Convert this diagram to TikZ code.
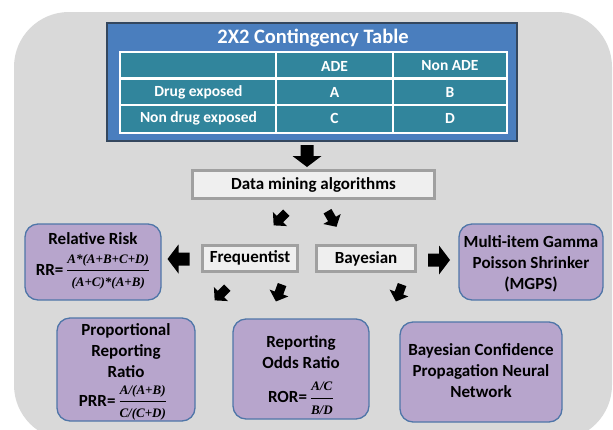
\documentclass[tikz,border=0pt]{standalone}
\usepackage{amsmath}
\usepackage{fontspec}
\setmainfont{Carlito}
\newfontfamily\fserif{Liberation Serif}
\newcommand\fmlfont{\fserif\bfseries\itshape\fontsize{13}{14}\selectfont}
\usetikzlibrary{calc}
\definecolor{bgray}{HTML}{D9D9D9}
\definecolor{tblue}{HTML}{4A7EBE}
\definecolor{tborder}{HTML}{34475E}
\definecolor{teal}{HTML}{31859C}
\definecolor{lilac}{HTML}{B7A5CC}
\definecolor{lilacedge}{HTML}{4F76A8}
\definecolor{boxgray}{HTML}{A0A0A0}
\definecolor{boxfill}{HTML}{EFEFEF}
\begin{document}
\begin{tikzpicture}[x=1pt,y=-1pt,
  txt/.style={font=\bfseries\fontsize{17}{21}\selectfont, text=black, align=center, inner sep=0pt},
  celltxt/.style={font=\bfseries\fontsize{15.5}{17}\selectfont, text=white, inner sep=0pt},
  algbox/.style={draw=boxgray, line width=3pt, fill=boxfill, txt, inner sep=0pt},
  method/.style={draw=lilacedge, line width=1.3pt, fill=lilac, rounded corners=13pt, inner sep=0pt},
  bigarrow/.pic={\fill[black] (-11,-6.5) -- (0,-6.5) -- (0,-14.5) -- (11,0) -- (0,14.5) -- (0,6.5) -- (-11,6.5) -- cycle;},
  smallarrow/.pic={\fill[black] (-9,-4.5) -- (0,-4.5) -- (0,-10) -- (9,0) -- (0,10) -- (0,4.5) -- (-9,4.5) -- cycle;}
]
\useasboundingbox (0,0) rectangle (613,429);
% background
\fill[white] (0,0) rectangle (613,429);
\fill[bgray, rounded corners=55pt] (14,12) rectangle (612,440);

% contingency table
\node[draw=tborder, line width=1.8pt, fill=tblue, minimum width=410pt, minimum height=118pt, inner sep=0pt] (tbl) at (312,82) {};
\node[font=\bfseries\fontsize{20.5}{22}\selectfont, text=white, inner sep=0pt] (title) at (313,38) {2X2 Contingency Table};
\fill[teal] (120,52) rectangle (507,133);
\draw[white, line width=1.2pt] (120,52) rectangle (507,133);
\draw[white, line width=1.2pt] (276,52) -- (276,133) (393,52) -- (393,133) (120,105) -- (507,105);
\draw[white, line width=2.4pt] (120,78.5) -- (507,78.5);
\node[celltxt] (hade) at (334.5,66) {ADE};
\node[celltxt] (hnon) at (450,66) {Non ADE};
\node[celltxt] (rdrug) at (198.5,92) {Drug exposed};
\node[celltxt] (rnon) at (198.5,118.5) {Non drug exposed};
\node[celltxt] (ca) at (334.5,92) {A};
\node[celltxt] (cb) at (450,92) {B};
\node[celltxt] (cc) at (334.5,118.5) {C};
\node[celltxt] (cd) at (450,118.5) {D};

% algorithm boxes
\node[algbox, minimum width=242pt, minimum height=28pt] (dm) at (313.5,184.5) {Data mining algorithms};
\node[algbox, minimum width=95pt, minimum height=26pt] (freq) at (250,258) {Frequentist};
\node[algbox, minimum width=99pt, minimum height=26pt] (bayes) at (366,258.5) {Bayesian};

% method boxes
\node[method, minimum width=136pt, minimum height=76pt] (rr) at (93,262) {};
\node[txt] (rrt) at (93,239) {Relative Risk};
\node[txt] (rrf) at (93,272) {RR=\,$\dfrac{\mbox{\fmlfont A*(A+B+C+D)}}{\mbox{\fmlfont (A+C)*(A+B)}}$};

\node[method, minimum width=144pt, minimum height=76pt] (mgps) at (531,262) {};
\node[txt] (mgpst) at (531,264) {Multi-item Gamma\\ Poisson Shrinker\\ (MGPS)};

\node[method, minimum width=138pt, minimum height=103pt] (prr) at (126,369.5) {};
\node[txt] (prrt) at (126,351) {Proportional\\ Reporting\\ Ratio};
\node[txt] (prrf) at (123,403) {PRR=\,$\dfrac{\mbox{\fmlfont A/(A+B)}}{\mbox{\fmlfont C/(C+D)}}$};

\node[method, minimum width=136pt, minimum height=100pt] (ror) at (301,369) {};
\node[txt] (rort) at (301,352) {Reporting\\ Odds Ratio};
\node[txt] (rorf) at (301,398) {ROR=\,$\dfrac{\mbox{\fmlfont A/C}}{\mbox{\fmlfont B/D}}$};

\node[method, minimum width=162pt, minimum height=100pt] (bcpnn) at (481,372) {};
\node[txt] (bcpnnt) at (481,371) {Bayesian Confidence\\ Propagation Neural\\ Network};

% block arrows
\pic[rotate=-90] at (307,156) {bigarrow};
\pic[rotate=-135] at (280,219) {smallarrow};
\pic[rotate=-60] at (332,219) {smallarrow};
\pic[rotate=180] at (178.5,259) {bigarrow};
\pic[rotate=0] at (439,260) {bigarrow};
\pic[rotate=-135] at (221,294) {smallarrow};
\pic[rotate=-110] at (279,293) {smallarrow};
\pic[rotate=-110] at (399,293) {smallarrow};
\end{tikzpicture}
\end{document}
